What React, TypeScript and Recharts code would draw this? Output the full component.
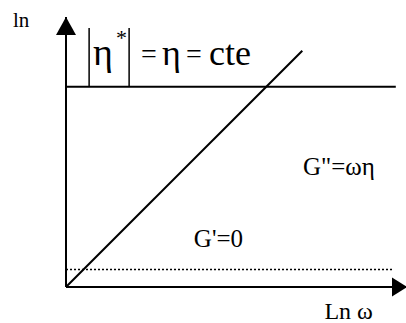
import React from 'react';
import { ComposedChart, Line, XAxis, YAxis, ReferenceDot, ReferenceLine } from 'recharts';

// Schematic axes (ln ω, ln modulus/viscosity), arbitrary log units
const xDomain: [number, number] = [0, 10];
const yDomain: [number, number] = [0, 8];

// G'' = ω η : straight line of slope 1 in log-log
const lossX = [0, 6.95];
const lossY = [0, 7.0];

// |η*| = η = cte : horizontal line
const etaX = [0, 9.7];
const etaLevel = 5.93;

// G' = 0 : dotted baseline
const storageX = [0, 9.6];
const storageLevel = 0.52;

const lossData = lossX.map((x, i) => ({ x, y: lossY[i] }));
const etaData = etaX.map((x) => ({ x, y: etaLevel }));
const storageData = storageX.map((x) => ({ x, y: storageLevel }));

const SERIF = '"Liberation Serif", "Times New Roman", Times, serif';

const textShape = (s: string, size: number) => (p: any) => (
  <text x={p.cx} y={p.cy} fontFamily={SERIF} style={{ fontFamily: SERIF }} fontSize={size} fill="#000">
    {s}
  </text>
);

const etaLabelShape = (p: any) => {
  const x = p.cx;
  const y = p.cy;
  const t = (s: string, dx: number, dy: number, size: number) => (
    <text x={x + dx} y={y + dy} fontFamily={SERIF} style={{ fontFamily: SERIF }} fontSize={size} fill="#000">
      {s}
    </text>
  );
  return (
    <g>
      <line x1={x} y1={y - 37} x2={x} y2={y + 21} stroke="#000" strokeWidth={1.5} />
      <line x1={x + 40} y1={y - 37} x2={x + 40} y2={y + 21} stroke="#000" strokeWidth={1.5} />
      {t('η', 4, 0, 38)}
      {t('*', 27, -20, 22)}
      {t('=', 52, -2, 28)}
      {t('η', 73, 0, 36)}
      {t('=', 97, -2, 28)}
      {t('cte', 120, 0, 36)}
    </g>
  );
};

const upArrow = (p: any) => (
  <polygon points={`${p.cx},${p.cy} ${p.cx - 10},${p.cy + 18} ${p.cx + 10},${p.cy + 18}`} fill="#000" />
);

const rightArrow = (p: any) => (
  <polygon points={`${p.cx + 1},${p.cy} ${p.cx - 14},${p.cy - 9.5} ${p.cx - 14},${p.cy + 9.5}`} fill="#000" />
);

export default function App() {
  return (
    <div style={{ width: 406, height: 323 }}>
      <style>{'body{margin:0}'}</style>
      <ComposedChart width={406} height={323} margin={{ top: 17, right: 0, bottom: 36, left: 66 }}>
        <XAxis type="number" dataKey="x" domain={xDomain} allowDataOverflow hide />
        <YAxis type="number" dataKey="y" domain={yDomain} allowDataOverflow hide />
        <ReferenceLine x={0} stroke="#000" strokeWidth={2} ifOverflow="visible" />
        <ReferenceLine y={0} stroke="#000" strokeWidth={2} ifOverflow="visible" />
        <Line data={etaData} dataKey="y" stroke="#000" strokeWidth={2} dot={false} isAnimationActive={false} />
        <Line
          data={storageData}
          dataKey="y"
          stroke="#000"
          strokeWidth={1.5}
          strokeDasharray="2 2"
          dot={false}
          isAnimationActive={false}
        />
        <Line data={lossData} dataKey="y" stroke="#000" strokeWidth={2} dot={false} isAnimationActive={false} />
        <ReferenceDot x={0} y={8} ifOverflow="visible" shape={upArrow} />
        <ReferenceDot x={10} y={0} ifOverflow="visible" shape={rightArrow} />
        <ReferenceDot x={-1.56} y={7.7} ifOverflow="visible" shape={textShape('ln', 21)} />
        <ReferenceDot x={7.6} y={-0.95} ifOverflow="visible" shape={textShape('Ln ω', 24)} />
        <ReferenceDot x={0.68} y={6.58} ifOverflow="visible" shape={etaLabelShape} />
        <ReferenceDot x={6.97} y={3.32} ifOverflow="visible" shape={textShape('G"=ωη', 25)} />
        <ReferenceDot x={3.76} y={1.19} ifOverflow="visible" shape={textShape("G'=0", 25)} />
      </ComposedChart>
    </div>
  );
}
